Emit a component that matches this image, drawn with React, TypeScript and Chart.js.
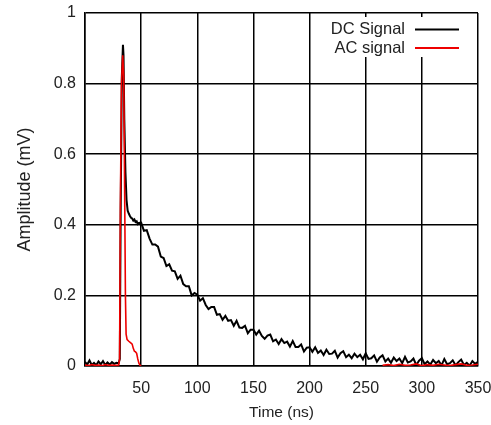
import React, { useEffect, useRef } from 'react';
import { Chart, registerables } from 'chart.js';

Chart.register(...registerables);

const FONT = "'Liberation Sans', Arial, sans-serif";
const TEXT = '#222';

const seriesNames = ['DC Signal', 'AC signal'];
const seriesColors = ['#000000', '#ee0000'];

const dcTime = [
  0, 2, 4, 6, 8, 10, 12, 14, 16, 18, 20, 22, 24, 26, 28, 30,
  31, 31.8, 32.8, 33.8, 34.3, 35, 36, 37, 38, 39, 40, 41, 42, 43, 44, 45, 46, 47, 48,
  50, 52.5, 55, 57.5, 60, 62.5, 65, 67.5, 70, 72.5, 75, 77.5, 80, 82.5, 85, 87.5, 90, 92.5, 95, 97.5,
  100, 102.5, 105, 107.5, 110, 112.5, 115, 117.5, 120, 122.5, 125, 127.5, 130, 132.5, 135, 137.5, 140, 142.5, 145, 147.5,
  150, 152.5, 155, 157.5, 160, 162.5, 165, 167.5, 170, 172.5, 175, 177.5, 180, 182.5, 185, 187.5, 190, 192.5, 195, 197.5,
  200, 202.5, 205, 207.5, 210, 212.5, 215, 217.5, 220, 222.5, 225, 227.5, 230, 232.5, 235, 237.5, 240, 242.5, 245, 247.5,
  250, 252.5, 255, 257.5, 260, 262.5, 265, 267.5, 270, 272.5, 275, 277.5, 280, 282.5, 285, 287.5, 290, 292.5, 295, 297.5,
  300, 302.5, 305, 307.5, 310, 312.5, 315, 317.5, 320, 322.5, 325, 327.5, 330, 332.5, 335, 337.5, 340, 342.5, 345, 347.5, 350,
];

const dcAmplitude = [
  0.012, 0.004, 0.016, 0.003, 0.009, 0.002, 0.013, 0.005, 0.014, 0.003, 0.010, 0.004, 0.011, 0.006, 0.009, 0.008,
  0.02, 0.45, 0.82, 0.91, 0.88, 0.70, 0.55, 0.47, 0.44, 0.432, 0.425, 0.42, 0.418, 0.412, 0.415, 0.408, 0.41, 0.402, 0.405,
  0.406, 0.383, 0.385, 0.361, 0.344, 0.344, 0.338, 0.310, 0.306, 0.283, 0.288, 0.270, 0.268, 0.247, 0.256, 0.232, 0.226, 0.226, 0.200, 0.207,
  0.202, 0.185, 0.192, 0.173, 0.161, 0.167, 0.167, 0.145, 0.147, 0.131, 0.142, 0.128, 0.130, 0.114, 0.128, 0.109, 0.108, 0.114, 0.093, 0.103,
  0.103, 0.089, 0.100, 0.085, 0.077, 0.086, 0.089, 0.070, 0.075, 0.062, 0.076, 0.065, 0.069, 0.055, 0.071, 0.054, 0.054, 0.061, 0.041, 0.052,
  0.053, 0.040, 0.053, 0.037, 0.044, 0.031, 0.046, 0.034, 0.035, 0.043, 0.024, 0.036, 0.042, 0.025, 0.032, 0.022, 0.035, 0.025, 0.032, 0.019,
  0.036, 0.020, 0.022, 0.030, 0.012, 0.024, 0.030, 0.013, 0.021, 0.009, 0.024, 0.014, 0.021, 0.008, 0.026, 0.010, 0.013, 0.021, 0.003, 0.015,
  0.022, 0.005, 0.013, 0.004, 0.017, 0.008, 0.014, 0.002, 0.020, 0.005, 0.008, 0.016, 0.002, 0.011, 0.018, 0.003, 0.009, 0.001, 0.014, 0.006, 0.012,
];

const acTime = [
  0, 3, 6, 9, 12, 15, 18, 21, 24, 27, 30,
  30.8, 31.5, 32.5, 33.6, 34.5, 35.3, 36, 36.6, 37.5, 39, 40.5, 42, 43, 44, 45, 46, 47, 48, 49, 50,
  52,
  265, 270, 275, 280, 285, 290, 295, 300, 305, 310, 315, 320, 325, 330, 335, 340, 345, 350,
];

const acAmplitude = [
  0.003, 0.001, 0.004, 0.002, 0.003, 0.001, 0.004, 0.002, 0.003, 0.002, 0.003,
  0.02, 0.45, 0.80, 0.88, 0.82, 0.50, 0.20, 0.09, 0.075, 0.07, 0.066, 0.062, 0.05, 0.042, 0.04, 0.036, 0.02, 0.008, 0.002, 0.0,
  null,
  0.002, 0.004, 0.001, 0.005, 0.002, 0.003, 0.006, 0.001, 0.004, 0.002, 0.005, 0.003, 0.001, 0.004, 0.006, 0.002, 0.003, 0.005,
];

const xMin = 0;
const xMax = 350;
const xStep = 50;
const yMin = 0;
const yMax = 1;
const yStep = 0.2;

const legendPlugin = {
  id: 'insideLegend',
  afterDraw(chart: any) {
    const { ctx, chartArea } = chart;
    const r = chartArea.right;
    const t = chartArea.top;
    ctx.save();
    ctx.fillStyle = '#ffffff';
    ctx.fillRect(r - 151, t + 4, 135, 40);
    ctx.font = `16.5px ${FONT}`;
    ctx.textAlign = 'right';
    ctx.textBaseline = 'middle';
    seriesNames.forEach((name, i) => {
      const yy = t + 16.5 + i * 18.5;
      ctx.fillStyle = TEXT;
      ctx.fillText(name, r - 73, yy);
      ctx.strokeStyle = seriesColors[i];
      ctx.lineWidth = 2;
      ctx.beginPath();
      ctx.moveTo(r - 63, yy);
      ctx.lineTo(r - 19, yy);
      ctx.stroke();
    });
    ctx.restore();
  },
};

export default function App() {
  const canvasRef = useRef<HTMLCanvasElement | null>(null);

  useEffect(() => {
    const canvas = canvasRef.current;
    if (!canvas) return;
    const dcPoints = dcTime.map((x, i) => ({ x, y: dcAmplitude[i] }));
    const acPoints = acTime.map((x, i) => ({ x, y: acAmplitude[i] }));

    const chart = new Chart(canvas, {
      type: 'line',
      data: {
        datasets: [
          {
            label: seriesNames[1],
            data: acPoints as any,
            borderColor: seriesColors[1],
            borderWidth: 1.6,
            pointRadius: 0,
            tension: 0,
            order: 0,
          },
          {
            label: seriesNames[0],
            data: dcPoints,
            borderColor: seriesColors[0],
            borderWidth: 2,
            pointRadius: 0,
            tension: 0,
            order: 1,
          },
        ],
      },
      options: {
        animation: false,
        responsive: false,
        devicePixelRatio: 1,
        layout: { padding: { top: 13, right: 13, left: 0, bottom: 0 } },
        plugins: {
          legend: { display: false },
          tooltip: { enabled: false },
        },
        scales: {
          x: {
            type: 'linear',
            min: xMin,
            max: xMax,
            ticks: {
              stepSize: xStep,
              autoSkip: false,
              maxRotation: 0,
              padding: 13,
              color: TEXT,
              font: { family: FONT, size: 16 },
              callback: (v: any) => (Number(v) === 0 ? '' : String(v)),
            },
            grid: { color: '#000', lineWidth: 1.5, drawTicks: false },
            border: { color: '#000', width: 1.5 },
            title: {
              display: true,
              text: 'Time (ns)',
              color: TEXT,
              font: { family: FONT, size: 15.5 },
              padding: { top: 0, bottom: 3 },
            },
            afterFit: (s: any) => {
              s.height = 59;
              s.paddingLeft = 0;
              s.paddingRight = 0;
            },
          },
          y: {
            type: 'linear',
            min: yMin,
            max: yMax,
            ticks: {
              stepSize: yStep,
              padding: 9,
              color: TEXT,
              font: { family: FONT, size: 16 },
              callback: (v: any) => String(parseFloat(Number(v).toFixed(1))),
            },
            grid: { color: '#000', lineWidth: 1.5, drawTicks: false },
            border: { color: '#000', width: 1.5 },
            title: {
              display: true,
              text: 'Amplitude (mV)',
              color: TEXT,
              font: { family: FONT, size: 18 },
              padding: { top: 14, bottom: 0 },
            },
            afterFit: (s: any) => {
              s.width = 85;
              s.paddingTop = 0;
              s.paddingBottom = 0;
            },
          },
        },
      },
      plugins: [legendPlugin],
    });
    return () => chart.destroy();
  }, []);

  return (
    <div
      style={{
        position: 'fixed',
        left: 0,
        top: 0,
        width: 491,
        height: 425,
        overflow: 'hidden',
        background: '#fff',
      }}
    >
      <canvas ref={canvasRef} width={491} height={425} style={{ display: 'block' }} />
    </div>
  );
}
